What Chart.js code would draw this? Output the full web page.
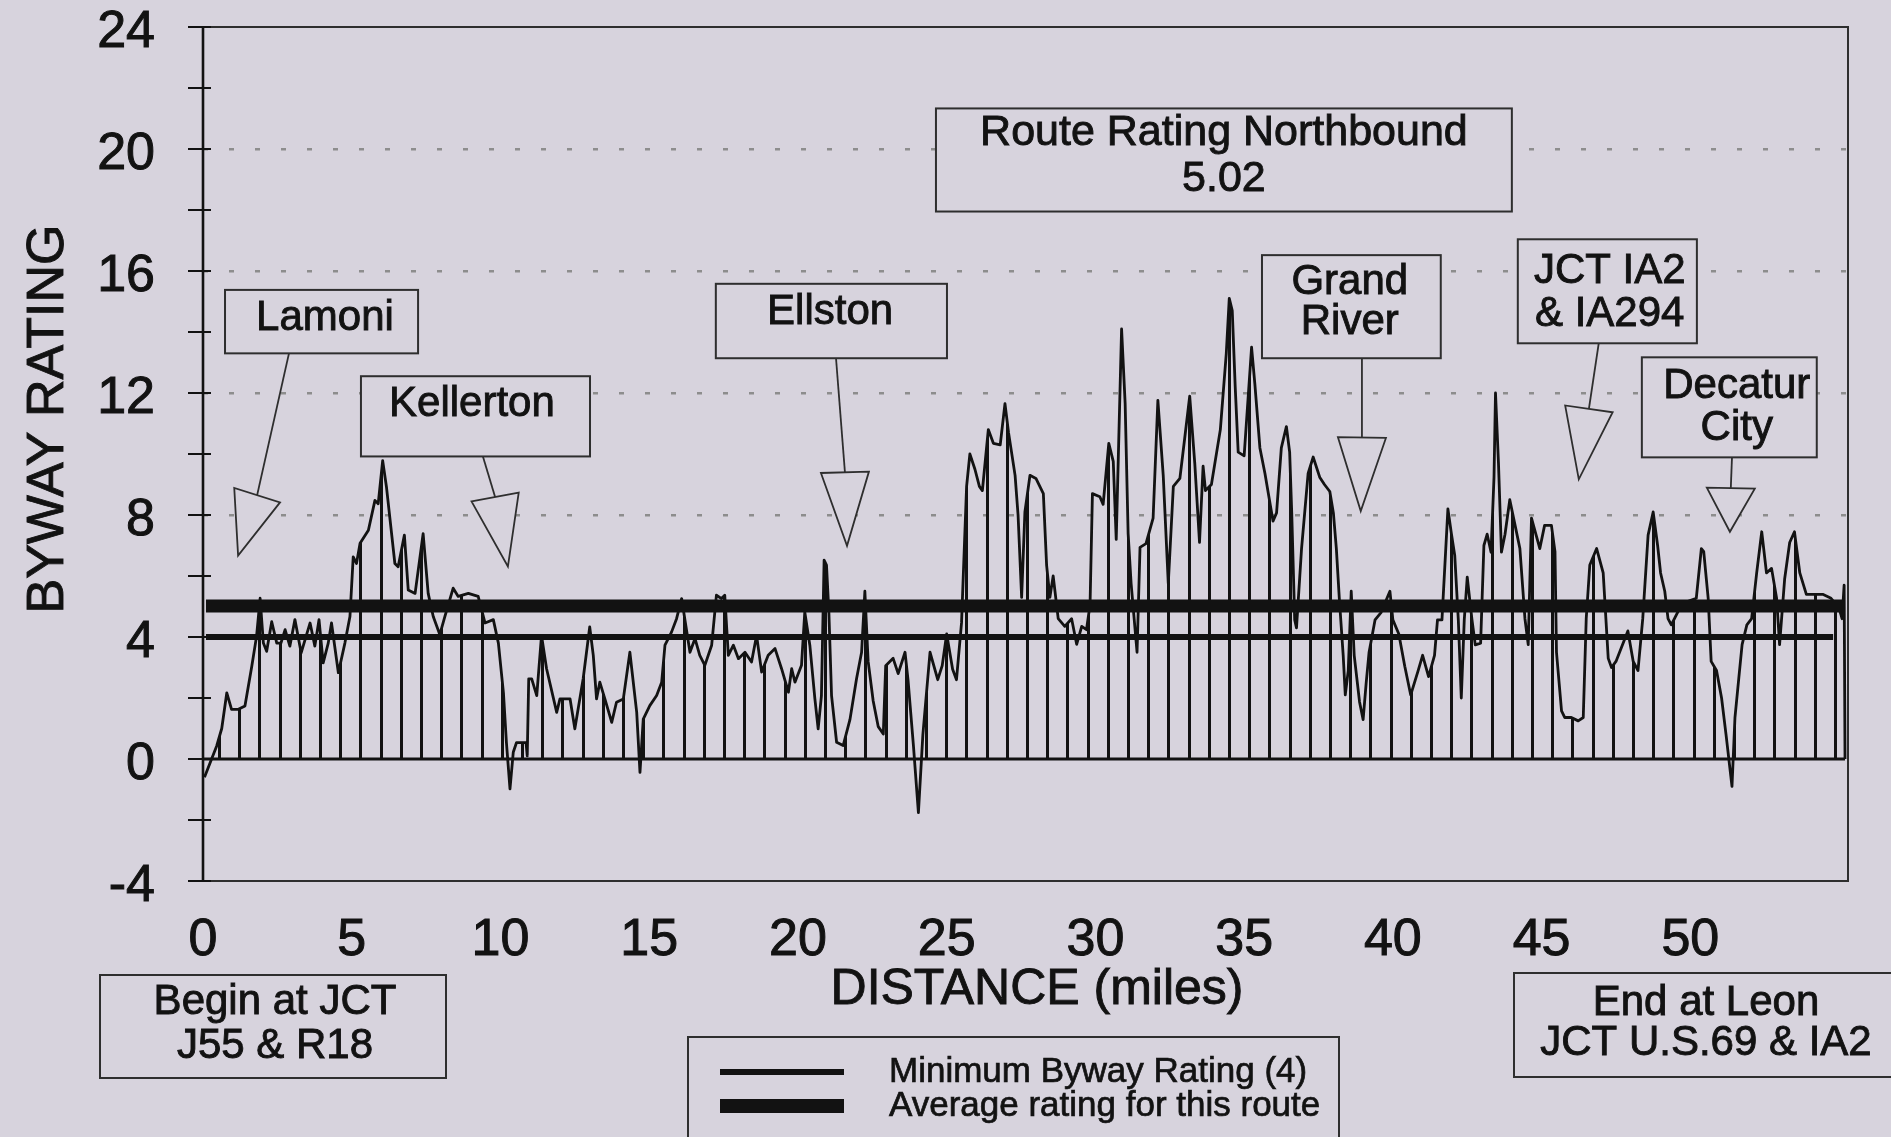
<!DOCTYPE html>
<html>
<head>
<meta charset="utf-8">
<title>Byway Rating - Northbound</title>
<script src="https://cdn.jsdelivr.net/npm/chart.js@4.4.1/dist/chart.umd.min.js"></script>
<style>
  html, body { margin: 0; padding: 0; background: #d7d3dd; overflow: hidden; }
  canvas { display: block; }
</style>
</head>
<body>
<canvas id="bywayChart" width="1891" height="1137"></canvas>
<script>
// rating profile (distance in miles, rating)
const mileMarks = [
  0.05, 0.46, 0.63, 0.8, 0.96, 1.19, 1.41, 1.64, 1.8, 1.92,
  2.03, 2.14, 2.31, 2.48, 2.62, 2.76, 2.92, 3.09, 3.3, 3.6,
  3.76, 3.9, 4.04, 4.21, 4.32, 4.55, 4.77, 4.94, 5.05, 5.16,
  5.28, 5.56, 5.78, 5.89, 6.04, 6.17, 6.45, 6.56, 6.77, 6.9,
  7.13, 7.4, 7.57, 7.74, 7.96, 8.13, 8.41, 8.58, 8.92, 9.25,
  9.48, 9.76, 9.93, 10.1, 10.2, 10.32, 10.43, 10.54, 10.86, 10.9,
  10.95, 11.05, 11.22, 11.38, 11.55, 11.89, 12.0, 12.34, 12.5, 12.78,
  13.0, 13.12, 13.23, 13.34, 13.51, 13.74, 13.9, 14.13, 14.35, 14.58,
  14.69, 14.8, 15.02, 15.25, 15.42, 15.53, 15.75, 15.92, 16.09, 16.37,
  16.54, 16.7, 16.87, 17.1, 17.26, 17.43, 17.54, 17.66, 17.83, 18.0,
  18.22, 18.44, 18.61, 18.78, 19.0, 19.23, 19.45, 19.68, 19.79, 19.9,
  20.12, 20.23, 20.4, 20.57, 20.68, 20.79, 20.88, 20.96, 21.04, 21.13,
  21.3, 21.52, 21.75, 21.97, 22.14, 22.25, 22.36, 22.53, 22.7, 22.87,
  22.95, 23.2, 23.37, 23.6, 23.7, 23.88, 24.05, 24.2, 24.44, 24.7,
  24.85, 25.0, 25.2, 25.33, 25.5, 25.67, 25.78, 25.95, 26.1, 26.2,
  26.4, 26.57, 26.8, 26.96, 27.08, 27.3, 27.4, 27.52, 27.63, 27.8,
  28.0, 28.25, 28.36, 28.47, 28.58, 28.75, 28.97, 29.2, 29.37, 29.54,
  29.7, 29.82, 29.9, 30.15, 30.26, 30.45, 30.6, 30.7, 30.88, 31.0,
  31.1, 31.2, 31.4, 31.5, 31.7, 31.94, 32.1, 32.28, 32.45, 32.62,
  32.84, 33.0, 33.17, 33.34, 33.5, 33.62, 33.7, 33.9, 34.2, 34.4,
  34.5, 34.6, 34.7, 34.8, 35.0, 35.25, 35.36, 35.53, 35.7, 35.97,
  36.09, 36.25, 36.42, 36.53, 36.6, 36.7, 36.76, 36.93, 37.15, 37.32,
  37.54, 37.7, 37.88, 38.0, 38.1, 38.2, 38.33, 38.4, 38.5, 38.6,
  38.7, 38.88, 39.0, 39.1, 39.2, 39.4, 39.6, 39.9, 40.0, 40.2,
  40.4, 40.6, 40.85, 41.0, 41.2, 41.4, 41.5, 41.65, 41.85, 41.97,
  42.08, 42.2, 42.3, 42.4, 42.5, 42.66, 42.77, 42.95, 43.06, 43.17,
  43.3, 43.4, 43.45, 43.55, 43.65, 43.77, 43.93, 44.1, 44.27, 44.44,
  44.55, 44.66, 44.94, 45.1, 45.33, 45.45, 45.5, 45.67, 45.78, 46.0,
  46.23, 46.4, 46.5, 46.62, 46.85, 47.07, 47.24, 47.35, 47.5, 47.9,
  48.08, 48.24, 48.4, 48.58, 48.75, 48.9, 49.0, 49.14, 49.25, 49.36,
  49.7, 49.9, 50.2, 50.37, 50.45, 50.6, 50.7, 50.88, 51.05, 51.2,
  51.4, 51.5, 51.63, 51.74, 51.9, 52.06, 52.23, 52.4, 52.56, 52.73,
  52.9, 53.0, 53.17, 53.34, 53.5, 53.68, 53.9, 54.2, 54.45, 54.73,
  55.0, 55.1, 55.17, 55.2
];
const ratings = [
  -0.6, 0.43, 1.0, 2.17, 1.63, 1.63, 1.74, 3.04, 4.02, 5.27,
  3.8, 3.53, 4.5, 3.8, 3.8, 4.24, 3.7, 4.57, 3.48, 4.46,
  3.7, 4.57, 3.15, 3.8, 4.46, 2.83, 3.8, 4.67, 6.63, 6.41,
  7.07, 7.5, 8.48, 8.37, 9.78, 8.9, 6.41, 6.3, 7.34, 5.54,
  5.43, 7.39, 5.43, 4.67, 4.08, 4.67, 5.6, 5.33, 5.43, 5.33,
  4.46, 4.57, 3.8, 2.17, 0.54, -0.98, 0.22, 0.54, 0.54, 0.1,
  2.63, 2.63, 2.08, 4.05, 2.96, 1.53, 1.97, 1.97, 0.99, 2.63,
  4.33, 3.4, 1.97, 2.52, 1.97, 1.2, 1.86, 1.97, 3.5, 1.53,
  -0.44, 1.31, 1.75, 2.08, 2.52, 3.73, 4.16, 4.6, 5.26, 3.5,
  3.95, 3.4, 3.07, 3.73, 5.37, 5.26, 5.37, 3.4, 3.73, 3.29,
  3.5, 3.18, 4.05, 2.85, 3.4, 3.62, 2.96, 2.19, 2.96, 2.52,
  3.07, 4.82, 3.73, 1.97, 0.99, 2.08, 6.52, 6.36, 4.82, 2.08,
  0.55, 0.44, 1.3, 2.63, 3.5, 5.5, 3.2, 1.9, 1.06, 0.82,
  3.06, 3.3, 2.8, 3.5, 2.6, 0.47, -1.76, 0.8, 3.5, 2.6,
  3.06, 4.1, 2.94, 2.6, 4.47, 8.94, 10.0, 9.5, 8.94, 8.8,
  10.8, 10.35, 10.3, 11.65, 10.7, 9.3, 8.0, 5.3, 8.1, 9.3,
  9.2, 8.7, 6.35, 5.3, 6.0, 4.6, 4.35, 4.6, 3.76, 4.35,
  4.24, 5.06, 8.7, 8.6, 8.35, 10.35, 9.76, 7.2, 14.1, 11.65,
  7.4, 5.76, 3.5, 6.94, 7.06, 7.9, 11.76, 9.3, 5.76, 8.94,
  9.2, 10.5, 11.9, 9.7, 7.1, 9.6, 8.8, 9.0, 10.8, 13.3,
  15.1, 14.7, 12.2, 10.06, 9.94, 13.5, 12.3, 10.2, 9.36, 7.8,
  8.07, 10.2, 10.9, 10.06, 8.07, 4.56, 4.3, 6.9, 9.36, 9.9,
  9.24, 9.0, 8.77, 8.07, 6.9, 5.26, 3.4, 2.1, 2.9, 5.5,
  3.4, 1.87, 1.29, 2.46, 3.5, 4.56, 4.8, 5.5, 4.56, 4.1,
  3.04, 2.1, 2.9, 3.4, 2.7, 3.4, 4.56, 4.56, 8.2, 7.37,
  6.67, 4.56, 2.0, 4.56, 5.96, 4.56, 3.74, 3.8, 7.0, 7.37,
  6.78, 9.24, 12.0, 9.7, 6.78, 7.37, 8.5, 7.7, 6.9, 4.6,
  3.75, 7.9, 6.9, 7.66, 7.66, 6.8, 3.5, 1.58, 1.36, 1.36,
  1.25, 1.36, 4.6, 6.36, 6.9, 6.1, 3.3, 3.0, 3.2, 4.2,
  3.2, 2.9, 4.6, 7.34, 8.1, 7.0, 6.1, 5.5, 4.6, 4.4,
  5.05, 5.16, 5.27, 6.9, 6.8, 5.27, 3.2, 2.9, 2.0, 0.8,
  -0.9, 1.36, 2.66, 3.75, 4.4, 4.6, 6.1, 7.45, 6.1, 6.25,
  5.27, 3.75, 5.9, 7.1, 7.45, 6.1, 5.4, 5.4, 5.4, 5.27,
  4.95, 4.6, 5.7, 0
];

const minRating = 4;          // Minimum Byway Rating
const avgRating = 5.02;       // Route Rating Northbound
const minLineMiles = [0.1, 54.8];
const avgLineMiles = [0.1, 55.2];
const baseLineMiles = [0, 55.2];

const xTicks = [0, 5, 10, 15, 20, 25, 30, 35, 40, 45, 50];
const yLabels = [-4, 0, 4, 8, 12, 16, 20, 24];
const yGridValues = [8, 12, 16, 20];

// callouts: box [x1, x2, yTop, yBottom], text line heights and arrows, all in chart units
const callouts = [
  { lines: ['Lamoni'], box: [0.74, 7.23, 15.38, 13.3], tx: 4.1, ty: [14.44],
    from: [2.89, 13.3], base: [1.82, 8.65], tip: [1.18, 6.67] },
  { lines: ['Kellerton'], box: [5.31, 13.01, 12.55, 9.92], tx: 9.04, ty: [11.64],
    from: [9.41, 9.92], base: [9.82, 8.59], tip: [10.25, 6.31] },
  { lines: ['Ellston'], box: [17.24, 25.01, 15.58, 13.14], tx: 21.08, ty: [14.63],
    from: [21.28, 13.14], base: [21.58, 9.4], tip: [21.65, 6.99] },
  { lines: ['Route Rating Northbound', '5.02'], box: [24.64, 44.0, 21.33, 17.95], tx: 34.32, ty: [20.52, 19.02], size: 43 },
  { lines: ['Grand', 'River'], box: [35.6, 41.61, 16.52, 13.14], tx: 38.55, ty: [15.61, 14.31],
    from: [38.96, 13.14], base: [38.96, 10.54], tip: [38.92, 8.13] },
  { lines: ['JCT IA2', '& IA294'], box: [44.2, 50.22, 17.04, 13.63], tx: 47.29, ty: [16.0, 14.57],
    from: [46.92, 13.63], base: [46.59, 11.48], tip: [46.25, 9.17] },
  { lines: ['Decatur', 'City'], box: [48.37, 54.25, 13.17, 9.89], tx: 51.56, ty: [12.23, 10.83],
    from: [51.4, 9.89], base: [51.36, 8.88], tip: [51.33, 7.45] }
];
const beginNote = ['Begin at JCT', 'J55 & R18'];
const endNote = ['End at Leon', 'JCT U.S.69 & IA2'];
const legendItems = [
  { text: 'Minimum Byway Rating (4)', width: 6 },
  { text: 'Average rating for this route', width: 14 }
];

const bg = '#d7d3dd';
const ink = '#121212';
const edge = '#2e2e2e';
const font = px => px + 'px "Liberation Sans", Arial, Helvetica, sans-serif';

const canvas = document.getElementById('bywayChart');
const ctx = canvas.getContext('2d');

// vertical hatching under the profile (about 20 px apart)
function hatchPattern(c) {
  const tile = document.createElement('canvas');
  tile.width = 101;
  tile.height = 4;
  const g = tile.getContext('2d');
  g.fillStyle = ink;
  [16, 36, 56, 77, 97].forEach(x => g.fillRect(x, 0, 3, 4));
  return c.createPattern(tile, 'repeat');
}

function box(c, x1, y1, x2, y2) {
  c.fillStyle = bg;
  c.fillRect(x1, y1, x2 - x1, y2 - y1);
  c.strokeStyle = edge;
  c.lineWidth = 2;
  c.strokeRect(x1, y1, x2 - x1, y2 - y1);
}

// scanned print looks heavy, so give the glyphs a thin outline
function textLines(c, lines, x, ys, size) {
  c.fillStyle = ink;
  c.strokeStyle = ink;
  c.lineWidth = 0.9;
  c.font = font(size);
  c.textAlign = 'center';
  c.textBaseline = 'middle';
  lines.forEach((t, i) => {
    c.strokeText(t, x, ys[i]);
    c.fillText(t, x, ys[i]);
  });
}

function arrow(c, from, base, tip, half) {
  c.strokeStyle = edge;
  c.lineWidth = 1.8;
  c.beginPath();
  c.moveTo(from[0], from[1]);
  c.lineTo(base[0], base[1]);
  c.stroke();
  const dx = tip[0] - base[0], dy = tip[1] - base[1];
  const len = Math.hypot(dx, dy);
  const nx = -dy / len * half, ny = dx / len * half;
  c.beginPath();
  c.moveTo(base[0] + nx, base[1] + ny);
  c.lineTo(tip[0], tip[1]);
  c.lineTo(base[0] - nx, base[1] - ny);
  c.closePath();
  c.fillStyle = bg;
  c.fill();
  c.stroke();
}

const decor = {
  id: 'decor',
  beforeDraw(chart) {
    const c = chart.ctx;
    c.save();
    c.fillStyle = bg;
    c.fillRect(0, 0, chart.width, chart.height);
    c.restore();
  },
  afterDatasetsDraw(chart) {
    const c = chart.ctx;
    const xs = chart.scales.x, ys = chart.scales.y, a = chart.chartArea;
    const pt = p => [xs.getPixelForValue(p[0]), ys.getPixelForValue(p[1])];
    c.save();

    // plot frame
    c.strokeStyle = edge;
    c.lineWidth = 2;
    c.strokeRect(a.left, a.top, a.right - a.left, a.bottom - a.top);

    // y axis with crossing tick marks
    c.strokeStyle = ink;
    c.lineWidth = 2.6;
    c.beginPath();
    c.moveTo(a.left, a.top);
    c.lineTo(a.left, a.bottom);
    c.stroke();
    c.lineWidth = 2;
    ys.ticks.forEach(t => {
      const y = ys.getPixelForValue(t.value);
      c.beginPath();
      c.moveTo(a.left - 15, y);
      c.lineTo(a.left + 8, y);
      c.stroke();
    });

    // labelled callouts
    callouts.forEach(co => {
      const x1 = xs.getPixelForValue(co.box[0]), x2 = xs.getPixelForValue(co.box[1]);
      const y1 = ys.getPixelForValue(co.box[2]), y2 = ys.getPixelForValue(co.box[3]);
      if (co.tip) arrow(c, pt(co.from), pt(co.base), pt(co.tip), 24);
      box(c, x1, y1, x2, y2);
      textLines(c, co.lines, xs.getPixelForValue(co.tx), co.ty.map(v => ys.getPixelForValue(v)), co.size || 42);
    });

    // notes under the axis
    box(c, 100, 975, 446, 1078);
    textLines(c, beginNote, 275, [1002, 1046], 42);
    box(c, 1514, 973, 1900, 1077);
    textLines(c, endNote, 1706, [1003, 1043], 42);

    // legend
    box(c, 688, 1037, 1339, 1150);
    legendItems.forEach((item, i) => {
      const y = 1072 + i * 34;
      c.strokeStyle = ink;
      c.lineWidth = item.width;
      c.beginPath();
      c.moveTo(720, y);
      c.lineTo(844, y);
      c.stroke();
      c.fillStyle = ink;
      c.lineWidth = 0.7;
      c.font = font(35);
      c.textAlign = 'left';
      c.textBaseline = 'middle';
      c.strokeText(item.text, 889, y);
      c.fillText(item.text, 889, y);
    });

    // axis titles
    textLines(c, ['DISTANCE (miles)'], 1037, [990], 50);
    c.translate(49, 419);
    c.rotate(-Math.PI / 2);
    textLines(c, ['BYWAY RATING'], 0, [0], 52);
    c.restore();
  }
};

const span = (miles, v) => miles.map(m => ({ x: m, y: v }));
const tickFont = { family: '"Liberation Sans", Arial, sans-serif', size: 52 };

new Chart(ctx, {
  type: 'line',
  data: {
    datasets: [
      {
        label: 'Average rating for this route',
        data: span(avgLineMiles, avgRating),
        borderColor: ink,
        borderWidth: 13,
        order: 0
      },
      {
        label: 'Minimum Byway Rating (4)',
        data: span(minLineMiles, minRating),
        borderColor: ink,
        borderWidth: 6,
        order: 1
      },
      {
        label: 'Zero',
        data: span(baseLineMiles, 0),
        borderColor: ink,
        borderWidth: 2.8,
        order: 2
      },
      {
        label: 'Byway rating',
        data: mileMarks.map((m, i) => ({ x: m, y: ratings[i] })),
        borderColor: ink,
        borderWidth: 2.8,
        borderJoinStyle: 'round',
        fill: 'origin',
        backgroundColor: hatchPattern(ctx),
        order: 3
      }
    ]
  },
  options: {
    responsive: false,
    animation: false,
    devicePixelRatio: 1,
    layout: { padding: { top: 27, right: 43, left: 0, bottom: 0 } },
    elements: { point: { radius: 0 }, line: { tension: 0 } },
    plugins: {
      legend: { display: false },
      tooltip: { enabled: false }
    },
    scales: {
      x: {
        type: 'linear',
        min: 0,
        max: 55.3,
        afterBuildTicks: s => { s.ticks = xTicks.map(v => ({ value: v })); },
        afterFit: s => { s.height = 256; s.paddingLeft = 0; s.paddingRight = 0; },
        grid: { display: false },
        border: { display: false },
        ticks: {
          color: ink,
          font: tickFont,
          textStrokeColor: ink,
          textStrokeWidth: 1,
          padding: 20,
          maxRotation: 0,
          autoSkip: false
        }
      },
      y: {
        min: -4,
        max: 24,
        afterFit: s => { s.width = 203; s.paddingTop = 0; s.paddingBottom = 0; },
        grid: {
          drawTicks: false,
          lineWidth: 2.5,
          color: c => yGridValues.includes(c.tick.value) ? '#8d8d8d' : 'rgba(0,0,0,0)'
        },
        border: { display: false, dash: [5, 21] },
        ticks: {
          stepSize: 2,
          autoSkip: false,
          color: ink,
          font: tickFont,
          textStrokeColor: ink,
          textStrokeWidth: 1,
          padding: 48,
          labelOffset: 6,
          callback: v => yLabels.includes(v) ? String(v) : ''
        }
      }
    }
  },
  plugins: [decor]
});
</script>
</body>
</html>
